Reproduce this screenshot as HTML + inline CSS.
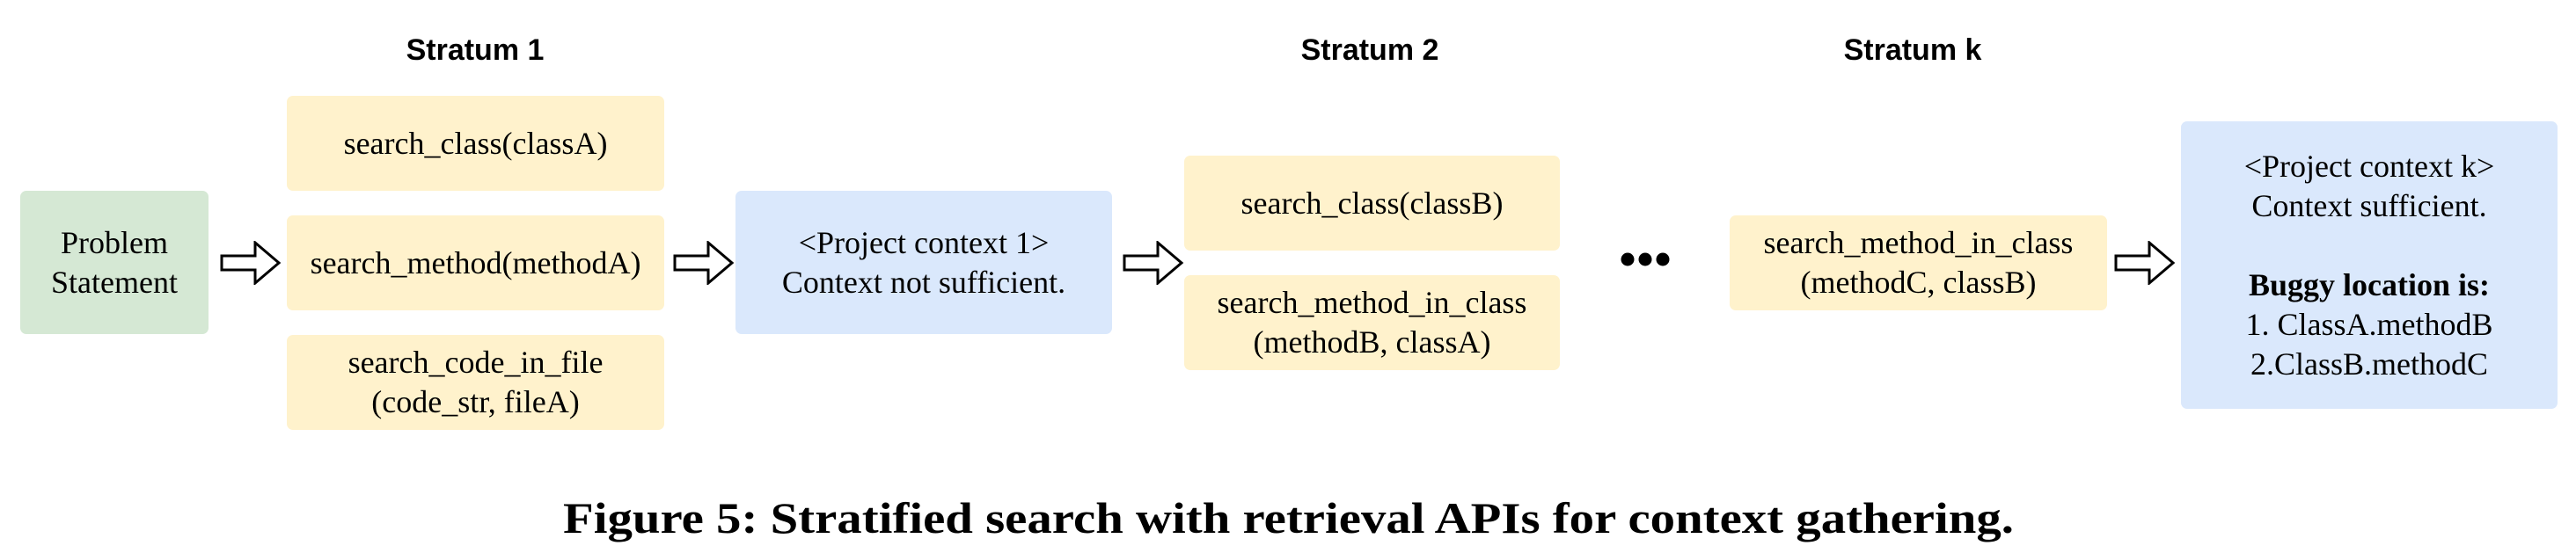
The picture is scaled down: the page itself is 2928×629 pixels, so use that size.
<!DOCTYPE html>
<html><head><meta charset="utf-8"><style>
body{margin:0;width:2928px;height:629px;background:#fff;position:relative;overflow:hidden}
.b{position:absolute;display:flex;align-items:center;justify-content:center;text-align:center;font-family:"Liberation Serif",serif;font-size:36px;line-height:45px;color:#000;border-radius:7px;box-sizing:border-box;white-space:nowrap}
.y{background:#FFF2CC}.g{background:#D5E8D4}.bl{background:#DAE8FC}
.t{position:absolute;font-family:"Liberation Sans",sans-serif;font-weight:bold;font-size:34px;transform:translateX(-50%);top:38px;white-space:nowrap}
.a{position:absolute;top:274px}
</style></head><body>
<div class="t" style="left:540px">Stratum 1</div>
<div class="t" style="left:1557px">Stratum 2</div>
<div class="t" style="left:2174px">Stratum k</div>

<div class="b g" style="left:23px;top:217px;width:214px;height:163px"><span>Problem<br>Statement</span></div>

<div class="b y" style="left:326px;top:109px;width:429px;height:108px"><span>search_class(classA)</span></div>
<div class="b y" style="left:326px;top:245px;width:429px;height:108px"><span>search_method(methodA)</span></div>
<div class="b y" style="left:326px;top:381px;width:429px;height:108px"><span>search_code_in_file<br>(code_str, fileA)</span></div>

<div class="b bl" style="left:836px;top:217px;width:428px;height:163px"><span>&lt;Project context 1&gt;<br>Context not sufficient.</span></div>

<div class="b y" style="left:1346px;top:177px;width:427px;height:108px"><span>search_class(classB)</span></div>
<div class="b y" style="left:1346px;top:313px;width:427px;height:108px"><span>search_method_in_class<br>(methodB, classA)</span></div>

<div style="position:absolute;left:1842px;top:284px">
<svg width="56" height="22"><circle cx="8" cy="11" r="7.5"/><circle cx="28" cy="11" r="7.5"/><circle cx="48" cy="11" r="7.5"/></svg></div>

<div class="b y" style="left:1966px;top:245px;width:429px;height:108px"><span>search_method_in_class<br>(methodC, classB)</span></div>

<div class="b bl" style="left:2479px;top:138px;width:428px;height:327px"><span>&lt;Project context k&gt;<br>Context sufficient.<br><br><b>Buggy location is:</b><br>1. ClassA.methodB<br>2.ClassB.methodC</span></div>

<svg class="a" style="left:250px" width="70" height="50"><path d="M2 17 H40 V2 L67 25 L40 48 V33 H2 Z" fill="#fff" stroke="#000" stroke-width="3"/></svg>
<svg class="a" style="left:765px" width="70" height="50"><path d="M2 17 H40 V2 L67 25 L40 48 V33 H2 Z" fill="#fff" stroke="#000" stroke-width="3"/></svg>
<svg class="a" style="left:1276px" width="70" height="50"><path d="M2 17 H40 V2 L67 25 L40 48 V33 H2 Z" fill="#fff" stroke="#000" stroke-width="3"/></svg>
<svg class="a" style="left:2403px" width="70" height="50"><path d="M2 17 H40 V2 L67 25 L40 48 V33 H2 Z" fill="#fff" stroke="#000" stroke-width="3"/></svg>

<svg style="position:absolute;left:0;top:550px" width="2928" height="79"><text x="640" y="56" textLength="1649" lengthAdjust="spacingAndGlyphs" font-family="Liberation Serif, serif" font-weight="bold" font-size="50">Figure 5: Stratified search with retrieval APIs for context gathering.</text></svg>
</body></html>
